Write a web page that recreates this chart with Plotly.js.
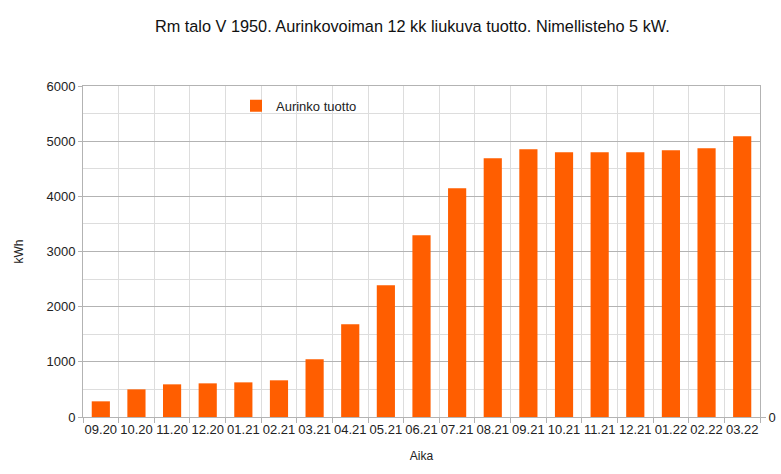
<!DOCTYPE html>
<html>
<head>
<meta charset="utf-8">
<script src="https://cdn.plot.ly/plotly-3.0.1.min.js"></script>
<style>
html, body { margin: 0; padding: 0; background: #fff; }
#chart { width: 781px; height: 474px; }
</style>
</head>
<body>
<div id="chart"></div>
<script>
var months = ['09.20', '10.20', '11.20', '12.20', '01.21', '02.21', '03.21', '04.21', '05.21', '06.21',
    '07.21', '08.21', '09.21', '10.21', '11.21', '12.21', '01.22', '02.22', '03.22'];
var tuotto = [284, 501, 592, 610, 628, 665, 1045, 1680, 2387, 3293,
    4145, 4689, 4852, 4798, 4798, 4798, 4834, 4870, 5088];

var fontName = '"Liberation Sans", Arial, sans-serif';

var bars = {
    x: months,
    y: tuotto,
    name: 'Aurinko tuotto',
    type: 'bar',
    marker: {color: '#ff5e00'},
    hoverinfo: 'x+y'
};

// invisible point so the right-hand axis (only "0") gets drawn
var zeroRight = {
    x: [months[0]],
    y: [0],
    yaxis: 'y2',
    type: 'scatter',
    mode: 'markers',
    marker: {opacity: 0},
    showlegend: false,
    hoverinfo: 'skip'
};

var layout = {
    width: 781,
    height: 474,
    margin: {l: 83, r: 21, t: 86, b: 57},
    paper_bgcolor: '#fff',
    plot_bgcolor: '#fff',
    font: {family: fontName, size: 13, color: '#222'},
    title: {
        text: 'Rm talo V 1950. Aurinkovoiman 12 kk liukuva tuotto. Nimellisteho 5 kW.',
        font: {size: 16.3, color: '#111'},
        x: 0.528, xanchor: 'center', y: 0.945, yanchor: 'middle'
    },
    bargap: 0.49,
    showlegend: true,
    legend: {
        x: 0.226, y: 0.94, xanchor: 'left', yanchor: 'middle',
        bgcolor: 'rgba(0,0,0,0)',
        font: {size: 13, color: '#222'}
    },
    xaxis: {
        type: 'category',
        range: [-0.5, months.length - 0.5],
        title: {text: 'Aika', font: {size: 12}, standoff: 16},
        tickangle: 0,
        tickson: 'boundaries',
        ticks: 'outside',
        ticklen: 5,
        tickcolor: '#b3b3b3',
        showgrid: true,
        gridcolor: '#dddddd',
        showline: true,
        linecolor: '#b3b3b3',
        linewidth: 1,
        mirror: true,
        zeroline: false,
        automargin: false,
        tickfont: {size: 13}
    },
    yaxis: {
        title: {text: 'kWh', font: {size: 12}, standoff: 20},
        range: [0, 6000],
        dtick: 1000,
        ticks: 'outside',
        ticklen: 4,
        tickcolor: '#b3b3b3',
        showgrid: true,
        gridcolor: '#b3b3b3',
        minor: {dtick: 500, showgrid: true, gridcolor: '#dddddd', ticks: ''},
        showline: true,
        linecolor: '#b3b3b3',
        zeroline: false,
        automargin: false,
        tickfont: {size: 13}
    },
    yaxis2: {
        overlaying: 'y',
        side: 'right',
        range: [0, 6000],
        tickvals: [0],
        ticktext: ['0'],
        ticks: 'outside',
        ticklen: 5,
        tickcolor: '#b3b3b3',
        showgrid: false,
        showline: true,
        linecolor: '#b3b3b3',
        zeroline: false,
        automargin: false,
        tickfont: {size: 13}
    }
};

Plotly.newPlot('chart', [bars, zeroRight], layout, {displayModeBar: false, staticPlot: true});
</script>
</body>
</html>
